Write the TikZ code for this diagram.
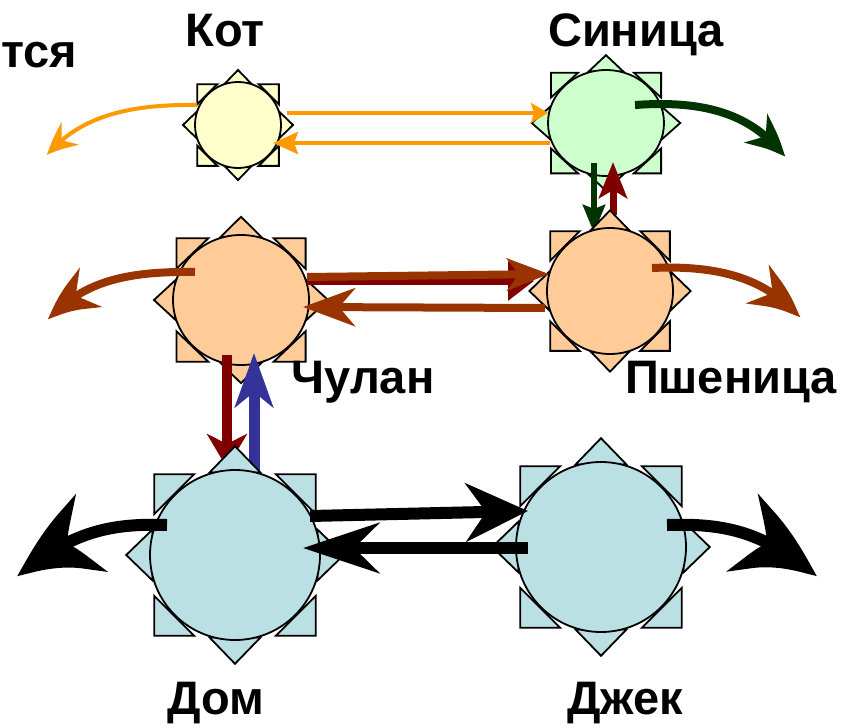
\documentclass[tikz,border=0pt]{standalone}
\usepackage{fontspec}
\setmainfont{Liberation Sans}
\usetikzlibrary{arrows.meta,bending,calc,shapes.geometric}

\definecolor{kotfill}{HTML}{FFFFCC}
\definecolor{sinfill}{HTML}{CCFFCC}
\definecolor{peach}{HTML}{FFCC99}
\definecolor{pale}{HTML}{BBE0E3}
\definecolor{orangec}{HTML}{FF9900}
\definecolor{brownc}{HTML}{993300}
\definecolor{darkred}{HTML}{800000}
\definecolor{darkgreen}{HTML}{003300}
\definecolor{bluec}{HTML}{333399}

\tikzset{
  ray/.style={draw=black, line width=1.8pt, line join=miter},
  body/.style={draw=black, line width=1.8pt, ellipse, inner sep=0pt, outer sep=0pt},
  label/.style={font=\bfseries\fontsize{47}{50}\selectfont, anchor=base, inner sep=0pt},
  thin/.style={line width=4pt, draw=orangec},
  mid/.style={line width=8pt},
  thick/.style={line width=12pt, draw=black},
}

% a round body with eight triangular rays: name, x, y, rx, ry, fill
\newcommand\sunnode[6]{%
  \begin{scope}[shift={(#2,#3)}, x=#4pt, y=#5pt]
    \foreach \s in {1,-1}{
      \draw[ray, fill=#6] (0.97*\s,0.3) -- (1.28*\s,0) -- (0.97*\s,-0.3) -- cycle;
      \draw[ray, fill=#6] (0.3,0.97*\s) -- (0,1.28*\s) -- (-0.3,0.97*\s) -- cycle;
      \foreach \t in {1,-1}
        \draw[ray, fill=#6] (0.95*\s,0.95*\t) -- (0.48*\s,0.95*\t) -- (0.95*\s,0.48*\t) -- cycle;
    }
  \end{scope}
  \node[body, fill=#6, minimum width=2*#4pt, minimum height=2*#5pt] (#1) at (#2,#3) {};
}

\begin{document}
\begin{tikzpicture}[x=1pt, y=-1pt]
\useasboundingbox (0,0) rectangle (852,728);

% upper bodies
\sunnode{kot}{238}{125}{43}{43}{kotfill}
\sunnode{sin}{606}{123}{58}{53}{sinfill}
\sunnode{chu}{241}{300}{68}{65}{peach}

% vertical links between rows
\draw[line width=6pt, draw=darkgreen, -{Stealth[length=28pt, width=22pt, inset=4pt]}]
  ($(sin)+(-12,40)$) -- ($(sin)+(-12,110)$);
\draw[line width=7pt, draw=darkred, -{Stealth[length=36pt, width=28pt, inset=8pt]}]
  ($(sin)+(7,92)$) -- ($(sin)+(7,39)$);
\draw[line width=10pt, draw=darkred, -{Stealth[length=34pt, width=40pt, inset=10pt]}]
  ($(chu)+(-14,55)$) -- ($(chu)+(-14,168)$);
\draw[line width=11pt, draw=bluec, -{Stealth[length=54pt, width=38pt, inset=15pt]}]
  ($(chu)+(13,172)$) -- ($(chu)+(13,53)$);

% lower bodies
\sunnode{psh}{610}{291}{63}{63}{peach}
\sunnode{dom}{235}{555}{85}{85}{pale}
\sunnode{jack}{601}{547}{85}{85}{pale}

% free ends of the outgoing curves
\coordinate (kotout) at (47,155);
\coordinate (sinout) at (785,157);
\coordinate (chuout) at (48,320);
\coordinate (pshout) at (800,318);
\coordinate (domout) at (17,577);
\coordinate (jackout) at (817,577);

% top row
\draw[thin, -{Stealth[length=32pt, width=28pt, inset=11pt, bend]}]
  ($(kot)+(-41,-20)$) .. controls (130,104) and (80,116) .. (kotout);
\draw[thin, -{Stealth[length=17pt, width=20pt, inset=3pt]}]
  ($(kot)+(49,-12)$) -- ($(sin)+(-58,-10)$);
\draw[thin, -{Stealth[length=25pt, width=22pt, inset=4pt]}]
  ($(sin)+(-56,20)$) -- ($(kot)+(35,18)$);
\draw[mid, draw=darkgreen, -{Stealth[length=42pt, width=36pt, inset=13pt, bend]}]
  ($(sin)+(29,-18)$) .. controls (705,100) and (752,114) .. (sinout);

% middle row
\draw[mid, draw=brownc, -{Stealth[length=56pt, width=44pt, inset=18pt, bend]}]
  ($(chu)+(-46,-28)$) .. controls (125,271) and (82,282) .. (chuout);
\draw[mid, draw=darkred, -{Triangle[length=26pt, width=38pt]}]
  ($(chu)+(66,-19)$) -- ($(psh)+(-76,-10)$);
\draw[mid, draw=brownc, -{Stealth[length=42pt, width=32pt, inset=12pt]}]
  ($(chu)+(66,-23)$) -- ($(psh)+(-61,-17)$);
\draw[mid, draw=brownc, -{Stealth[length=52pt, width=38pt, inset=16pt]}]
  ($(psh)+(-65,17)$) -- ($(chu)+(62,7)$);
\draw[mid, draw=brownc, -{Stealth[length=56pt, width=44pt, inset=18pt, bend]}]
  ($(psh)+(42,-23)$) .. controls (718,265) and (766,278) .. (pshout);

% bottom row
\draw[thick, -{Stealth[length=100pt, width=80pt, inset=33pt, bend]}]
  ($(dom)+(-68,-30)$) .. controls (110,523) and (70,532) .. (domout);
\draw[thick, -{Stealth[length=62pt, width=58pt, inset=20pt]}]
  ($(dom)+(75,-39)$) -- ($(jack)+(-73,-36)$);
\draw[thick, -{Stealth[length=76pt, width=50pt, inset=25pt]}]
  ($(jack)+(-73,1)$) -- ($(dom)+(68,-7)$);
\draw[thick, -{Stealth[length=100pt, width=80pt, inset=33pt, bend]}]
  ($(jack)+(66,-22)$) .. controls (725,523) and (765,532) .. (jackout);

% captions
\node[label] (tkot) at (225,46) {Кот};
\node[label] (tsin) at (636,46) {Синица};
\node[label, anchor=base west] (tleft) at (1,67) {тся};
\node[label] (tchu) at (363,393) {Чулан};
\node[label] (tpsh) at (731,393) {Пшеница};
\node[label] (tdom) at (216,714) {Дом};
\node[label] (tjack) at (625,714) {Джек};
\end{tikzpicture}
\end{document}
